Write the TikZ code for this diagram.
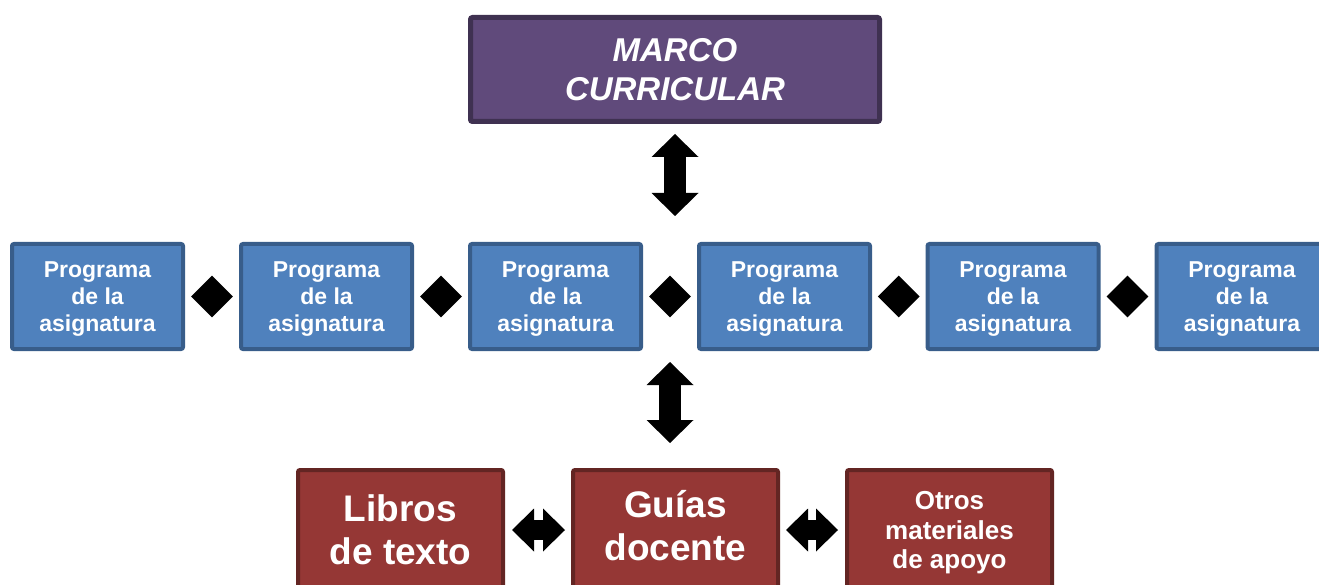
\documentclass[tikz,border=0pt]{standalone}
\usepackage{fontspec}
\setmainfont{Liberation Sans}
\usetikzlibrary{shapes.geometric, arrows.meta, calc}

\definecolor{marcofill}{HTML}{604A7B}
\definecolor{marcoline}{HTML}{3F3151}
\definecolor{progfill}{HTML}{4F81BD}
\definecolor{progline}{HTML}{385D8A}
\definecolor{matfill}{HTML}{953735}
\definecolor{matline}{HTML}{632523}

\begin{document}
\begin{tikzpicture}
        [x=1pt,y=-1pt,
         marco/.style={draw=marcoline,fill=marcofill,line width=5pt,rounded corners=2pt,inner sep=0,
           text=white,align=center,minimum width=409pt,minimum height=104pt,
           font=\bfseries\itshape\fontsize{33}{39}\selectfont},
         prog/.style={draw=progline,fill=progfill,line width=4pt,rounded corners=2pt,inner sep=0,
           text=white,align=center,minimum width=171pt,minimum height=105pt,text depth=0pt,
           font=\bfseries\fontsize{23}{27}\selectfont},
         mat/.style={draw=matline,fill=matfill,line width=4pt,rounded corners=2pt,inner sep=0,
           text=white,align=center,minimum width=205pt,minimum height=120pt,
           font=\bfseries\fontsize{37}{43}\selectfont},
         gem/.style={shape=diamond,fill=black,inner sep=0,minimum size=42pt},
         vbar/.style={line width=22pt,line cap=rect,{Triangle[width=47pt,length=23pt,line width=0pt]}-{Triangle[width=47pt,length=23pt,line width=0pt]}},
         hbar/.style={line width=20pt,line cap=rect,{Triangle[width=43pt,length=22pt,line width=0pt]}-{Triangle[width=43pt,length=22pt,line width=0pt]}}]

        \clip (0,0) rectangle (1319,585);

        \node[marco] (marco) at (675, 69.5) {MARCO\\CURRICULAR};

        \node[prog] (p1) at (97.5, 296.5) {Programa\\de la\\asignatura};
        \node[prog] (p2) at (326.5, 296.5) {Programa\\de la\\asignatura};
        \node[prog] (p3) at (555.5, 296.5) {Programa\\de la\\asignatura};
        \node[prog] (p4) at (784.5, 296.5) {Programa\\de la\\asignatura};
        \node[prog] (p5) at (1013, 296.5) {Programa\\de la\\asignatura};
        \node[prog] (p6) at (1242, 296.5) {Programa\\de la\\asignatura};

        \node[gem] (g1) at ($(p1.east)!0.5!(p2.west)$) {};
        \node[gem] (g2) at ($(p2.east)!0.5!(p3.west)$) {};
        \node[gem] (g3) at ($(p3.east)!0.5!(p4.west)$) {};
        \node[gem] (g4) at ($(p4.east)!0.5!(p5.west)$) {};
        \node[gem] (g5) at ($(p5.east)!0.5!(p6.west)$) {};

        \node[mat] (libros) at (400.5, 530) {Libros\\de texto};
        \node[mat,text depth=10pt] (guias) at (675.5, 530) {Guías\\docente};
        \node[mat,text depth=0pt,font=\bfseries\fontsize{26}{29.5}\selectfont] (otros) at (949.5, 530) {Otros\\materiales\\de apoyo};

        \draw[vbar,shorten <=10pt,shorten >=26pt] (marco.south) -- (marco.south |- p3.north);
        \draw[vbar,shorten <=11pt,shorten >=25pt] (g3 |- p3.south) -- (g3 |- guias.north);
        \draw[hbar,shorten <=7pt,shorten >=6pt] (libros.east) -- (guias.west);
        \draw[hbar,shorten <=6pt,shorten >=7pt] (guias.east) -- (otros.west);
      \end{tikzpicture}
\end{document}
